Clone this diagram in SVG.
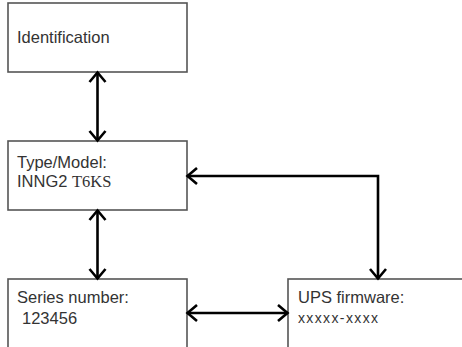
<svg xmlns="http://www.w3.org/2000/svg" width="462" height="347" viewBox="0 0 462 347">
<style>
.box{fill:#fff;stroke:#555;stroke-width:1.6}
.t{font-family:"Liberation Sans",Arial,sans-serif;font-size:16.5px;fill:#333}
.s{font-family:"Liberation Serif","Times New Roman",serif}
.c{fill:none;stroke:#000;stroke-width:2.6;marker-start:url(#arr);marker-end:url(#arr)}
</style>
<defs>
<marker id="arr" viewBox="-12 -10 14 20" refX="0" refY="0" markerWidth="14" markerHeight="20" markerUnits="userSpaceOnUse" orient="auto-start-reverse" overflow="visible">
<path d="M-10,-8 L-0.5,0 L-10,8" fill="none" stroke="#000" stroke-width="2.6"/>
</marker>
</defs>
<rect width="462" height="347" fill="#fff"/>
<g id="identification">
<rect class="box" x="8" y="3" width="179" height="69"/>
<text class="t" x="17" y="43">Identification</text>
</g>
<g id="type-model">
<rect class="box" x="8" y="141" width="179" height="69"/>
<text class="t" x="17" y="168">Type/Model:</text>
<text class="t" x="17" y="187">INNG2 <tspan class="s">T6KS</tspan></text>
</g>
<g id="series-number">
<rect class="box" x="8" y="279" width="179" height="80"/>
<text class="t" x="17" y="303">Series number:</text>
<text class="t" x="22" y="324">123456</text>
</g>
<g id="ups-firmware">
<rect class="box" x="288" y="279" width="190" height="80"/>
<text class="t" x="298" y="303">UPS firmware:</text>
<text class="t" x="298" y="323" style="font-size:14px" textLength="80" lengthAdjust="spacing">xxxxx-xxxx</text>
</g>
<g id="connectors">
<path class="c" d="M97.5 72 V141"/>
<path class="c" d="M97.5 210 V279"/>
<path class="c" d="M187 176 H378 V279"/>
<path class="c" d="M187 313 H288"/>
</g>
</svg>
